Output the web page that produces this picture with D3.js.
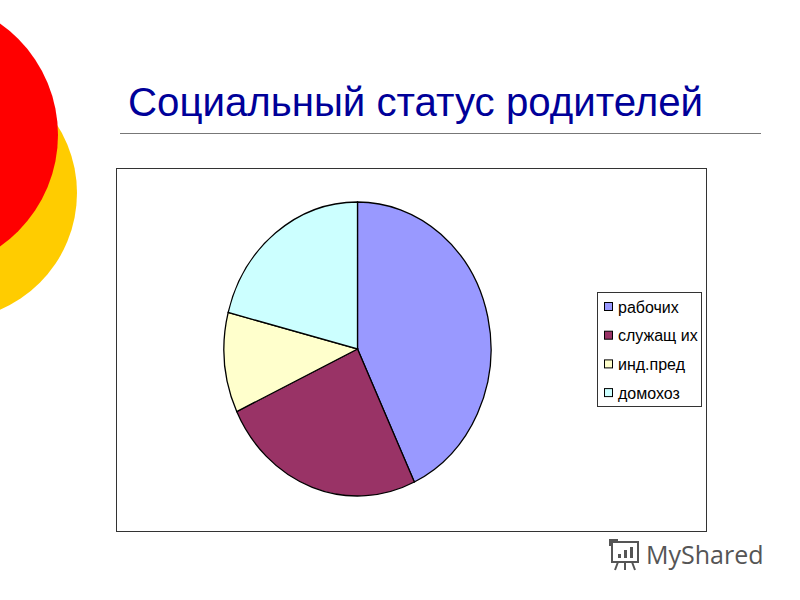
<!DOCTYPE html>
<html><head><meta charset="utf-8">
<script src="https://cdn.jsdelivr.net/npm/d3@7"></script>
<style>html,body{margin:0;padding:0;background:#fff;}svg{display:block;}</style>
</head><body>
<script>
const categories = ["рабочих", "служащ их", "инд.пред", "домохоз"];
const values = [43, 25, 11, 21];
const colors = ["#9999FF", "#993366", "#FFFFCC", "#CCFFFF"];
const title = "Социальный статус родителей";

const svg = d3.select("body").append("svg").attr("width", 800).attr("height", 600);

// decorative circles
svg.append("circle").attr("cx", -50).attr("cy", 193).attr("r", 127).attr("fill", "#FFCC00");
svg.append("circle").attr("cx", -78).attr("cy", 135).attr("r", 136).attr("fill", "#FF0000");

// title
svg.append("text").attr("x", 128).attr("y", 116).attr("font-family", "Arial, 'Liberation Sans', sans-serif")
  .attr("font-size", 40).attr("fill", "#000099").attr("textLength", 575).attr("lengthAdjust", "spacingAndGlyphs").text(title);
svg.append("line").attr("x1", 120).attr("x2", 761).attr("y1", 133.5).attr("y2", 133.5)
  .attr("stroke", "#777").attr("stroke-width", 1.2);

// chart box
svg.append("rect").attr("x", 116.5).attr("y", 168.5).attr("width", 590).attr("height", 363)
  .attr("fill", "#fff").attr("stroke", "#333").attr("stroke-width", 1);

// pie
const cx = 357.5, cy = 349, ry = 147, rx = 133.5;
const pie = d3.pie().sort(null).value(d => d)(values);
const arc = d3.arc().innerRadius(0).outerRadius(ry);
const g = svg.append("g").attr("transform", `translate(${cx},${cy}) scale(${rx/ry},1)`);
g.selectAll("path").data(pie).enter().append("path")
  .attr("d", arc).attr("fill", (d, i) => colors[i])
  .attr("stroke", "#000").attr("stroke-width", 1.3).attr("vector-effect", "non-scaling-stroke");

// legend
svg.append("rect").attr("x", 597.5).attr("y", 292.5).attr("width", 104).attr("height", 114)
  .attr("fill", "#fff").attr("stroke", "#333").attr("stroke-width", 1);
const lg = svg.selectAll("g.leg").data(categories).enter().append("g")
  .attr("transform", (d, i) => `translate(604, ${307 + i * 28.7})`);
lg.append("rect").attr("x", 0.5).attr("y", -4.5).attr("width", 8).attr("height", 8)
  .attr("fill", (d, i) => colors[i]).attr("stroke", "#000").attr("stroke-width", 1);
lg.append("text").attr("x", 14).attr("y", 5.5).attr("font-family", "Arial, 'Liberation Sans', sans-serif")
  .attr("font-size", 16).attr("fill", "#000").text(d => d);

// watermark
const wm = svg.append("g").attr("transform", "translate(608,540)").attr("fill", "none").attr("stroke", "#555").attr("stroke-width", 2);
wm.append("rect").attr("x", 4).attr("y", 2).attr("width", 26).attr("height", 20);
wm.append("path").attr("d", "M2,6 L2,0 L10,0");
wm.append("path").attr("d", "M10,22 L7,30 M17,22 L17,30 M24,22 L27,30");
wm.append("rect").attr("x", 10).attr("y", 14).attr("width", 3).attr("height", 4).attr("fill", "#555").attr("stroke", "none");
wm.append("rect").attr("x", 16).attr("y", 10).attr("width", 3).attr("height", 8).attr("fill", "#555").attr("stroke", "none");
wm.append("rect").attr("x", 22).attr("y", 7).attr("width", 3).attr("height", 11).attr("fill", "#555").attr("stroke", "none");
svg.append("text").attr("x", 646).attr("y", 564).attr("font-family", "'Open Sans', 'DejaVu Sans', sans-serif")
  .attr("font-size", 25).attr("fill", "#555").text("MyShared");
</script>
</body></html>
